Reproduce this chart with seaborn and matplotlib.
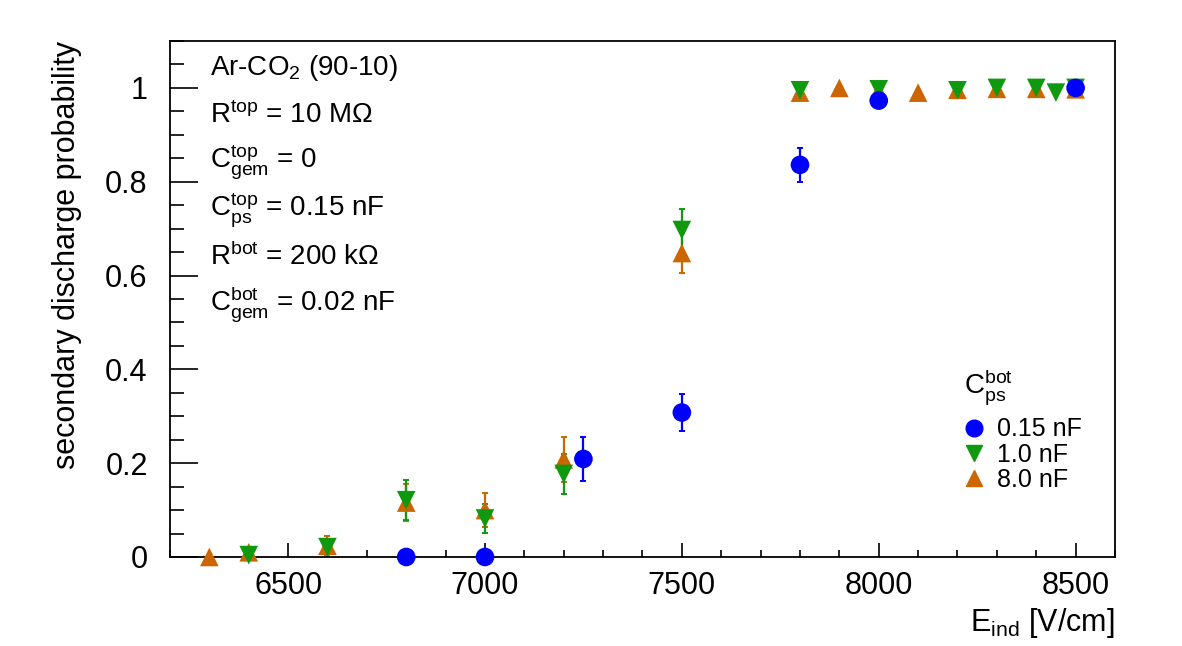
import numpy as np
import pandas as pd
import matplotlib
matplotlib.use("Agg")
import matplotlib.pyplot as plt
from matplotlib.ticker import MultipleLocator
from matplotlib.lines import Line2D
import seaborn as sns

# secondary discharge probability vs induction field, for three C_ps^bot values
e_015 = [6800, 7000, 7250, 7500, 7800, 8000, 8500]
p_015 = [0.0, 0.0, 0.209, 0.308, 0.836, 0.973, 1.0]
err_015 = [0.0, 0.0, 0.047, 0.040, 0.036, 0.008, 0.004]

e_10 = [6400, 6600, 6800, 7000, 7200, 7500, 7800, 8000, 8200, 8300, 8400, 8450, 8500]
p_10 = [0.004, 0.021, 0.121, 0.082, 0.177, 0.697, 0.995, 0.997, 0.995, 1.0, 1.0, 0.99, 1.0]
err_10 = [0.006, 0.012, 0.043, 0.030, 0.042, 0.045, 0.004, 0.003, 0.004, 0.002, 0.002, 0.005, 0.002]

e_80 = [6300, 6400, 6600, 6800, 7000, 7200, 7500, 7800, 7900, 8000, 8100, 8200, 8300, 8400, 8500]
p_80 = [0.0, 0.01, 0.024, 0.116, 0.100, 0.208, 0.648, 0.99, 1.0, 0.993, 0.99, 0.996, 0.998, 0.998, 0.997]
err_80 = [0.0, 0.008, 0.02, 0.04, 0.037, 0.048, 0.043, 0.005, 0.002, 0.004, 0.005, 0.004, 0.003, 0.003, 0.003]

labels = ["0.15 nF", "1.0 nF", "8.0 nF"]
colors = {"0.15 nF": "#0000ff", "1.0 nF": "#0f990f", "8.0 nF": "#cc6600"}
markers = {"0.15 nF": "o", "1.0 nF": "v", "8.0 nF": "^"}

info_lines = [
    r"Ar-CO$_{2}$ (90-10)",
    r"R$^{\rm top}$ = 10 M$\Omega$",
    r"C$_{\rm gem}^{\rm top}$ = 0",
    r"C$_{\rm ps}^{\rm top}$ = 0.15 nF",
    r"R$^{\rm bot}$ = 200 k$\Omega$",
    r"C$_{\rm gem}^{\rm bot}$ = 0.02 nF",
]

# draw order: orange first, then green, blue on top
frames = []
for lab, e, p, err in [("8.0 nF", e_80, p_80, err_80),
                       ("1.0 nF", e_10, p_10, err_10),
                       ("0.15 nF", e_015, p_015, err_015)]:
    frames.append(pd.DataFrame({"E": e, "p": p, "err": err, "cps": lab}))
df = pd.concat(frames, ignore_index=True)

sns.set_theme(style="ticks")
plt.rcParams["font.family"] = ["Liberation Sans", "DejaVu Sans"]
plt.rcParams["mathtext.fontset"] = "custom"
plt.rcParams["mathtext.rm"] = "Liberation Sans"
plt.rcParams["mathtext.it"] = "Liberation Sans:italic"
plt.rcParams["text.color"] = "black"
plt.rcParams["axes.labelcolor"] = "black"
plt.rcParams["xtick.color"] = "black"
plt.rcParams["ytick.color"] = "black"

fig = plt.figure(figsize=(11.82, 6.46), dpi=100)
ax = fig.add_axes([0.1438, 0.1378, 0.7995, 0.7987])

for lab, g in df.groupby("cps", sort=False):
    ax.errorbar(g["E"], g["p"], yerr=g["err"], fmt="none", ecolor=colors[lab],
                elinewidth=1.6, capsize=2, capthick=1.4, zorder=2)

sns.scatterplot(data=df, x="E", y="p", hue="cps", style="cps", palette=colors,
                markers=markers, s=180, linewidth=0, legend=False, ax=ax, zorder=3)
for coll in ax.collections:
    coll.set_clip_on(False)

ax.set_xlim(6200, 8600)
ax.set_ylim(0, 1.1)
ax.xaxis.set_major_locator(MultipleLocator(500))
ax.xaxis.set_minor_locator(MultipleLocator(100))
ax.yaxis.set_minor_locator(MultipleLocator(0.05))
ax.set_yticks([0, 0.2, 0.4, 0.6, 0.8, 1.0])
ax.set_yticklabels(["0", "0.2", "0.4", "0.6", "0.8", "1"])

ax.tick_params(axis="both", which="both", direction="in", labelsize=22, width=1.2)
ax.tick_params(axis="x", which="major", length=10, pad=10)
ax.tick_params(axis="x", which="minor", length=5)
ax.tick_params(axis="y", which="major", length=20, pad=16)
ax.tick_params(axis="y", which="minor", length=10)
for sp in ax.spines.values():
    sp.set_visible(True)
    sp.set_linewidth(1.3)
    sp.set_color("black")

ax.set_xlabel(r"E$_{\rm ind}$ [V/cm]", fontsize=22, loc="right")
ax.xaxis.set_label_coords(1.0, -0.095)
ax.set_ylabel("secondary discharge probability", fontsize=22, loc="top")
ax.yaxis.set_label_coords(-0.093, 1.0)

for i, line in enumerate(info_lines):
    ax.text(0.042, 0.947 - i * 0.0915, line, transform=ax.transAxes, fontsize=20,
            ha="left", va="center")

ax.text(0.84, 0.33, r"C$_{\rm ps}^{\rm bot}$", transform=ax.transAxes, fontsize=20,
        ha="left", va="center")
handles = [Line2D([], [], linestyle="none", marker=markers[l], color=colors[l],
                  markersize=12) for l in labels]
ax.legend(handles, labels, loc="upper left", bbox_to_anchor=(0.83, 0.29),
          frameon=False, fontsize=18, handlelength=0.8, handletextpad=0.5,
          labelspacing=0.05, borderaxespad=0)

fig.savefig("out.png", dpi=100)
